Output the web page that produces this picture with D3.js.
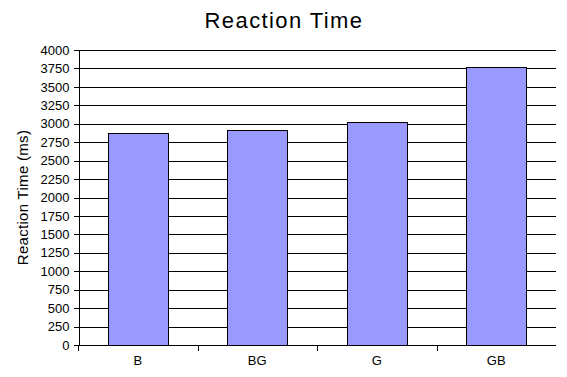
<!DOCTYPE html>
<html>
<head>
<meta charset="utf-8">
<script src="https://cdn.jsdelivr.net/npm/d3@7"></script>
<style>
  body { margin: 0; background: #fff; }
  text { font-family: "Liberation Sans", Arial, sans-serif; fill: #000; }
</style>
</head>
<body>
<svg width="567" height="377"></svg>
<script>
var categories = ['B', 'BG', 'G', 'GB'];
var reactionTimes = [2870, 2910, 3020, 3765];
var yTicks = d3.range(0, 4001, 250);

var svg = d3.select('svg');
var margin = {left: 78, right: 11, top: 50, bottom: 32};
var width = 567, height = 377;

var x = d3.scaleBand()
          .domain(categories)
          .range([margin.left, width - margin.right])
          .paddingInner(0.5)
          .paddingOuter(0.25);

var y = d3.scaleLinear()
          .domain([0, 4000])
          .range([height - margin.bottom, margin.top]);

// gridlines
svg.append('g')
  .selectAll('line')
  .data(yTicks.slice(1))
  .enter()
  .append('line')
    .attr('x1', margin.left)
    .attr('x2', width - margin.right)
    .attr('y1', d => Math.round(y(d)) + 0.5)
    .attr('y2', d => Math.round(y(d)) + 0.5)
    .attr('stroke', '#000')
    .attr('shape-rendering', 'crispEdges');

// bars
svg.append('g')
  .selectAll('rect')
  .data(reactionTimes)
  .enter()
  .append('rect')
    .attr('x', (d, i) => Math.round(x(categories[i])) + 0.5)
    .attr('y', d => Math.round(y(d)) + 0.5)
    .attr('width', Math.round(x.bandwidth()))
    .attr('height', d => Math.round(y(0)) - Math.round(y(d)))
    .attr('fill', '#9999ff')
    .attr('stroke', '#000')
    .attr('shape-rendering', 'crispEdges');

// y axis
var yAxis = svg.append('g')
  .attr('transform', 'translate(' + (margin.left + 0.5) + ',0)')
  .call(d3.axisLeft(y).tickValues(yTicks).tickFormat(d3.format('d'))
          .tickSize(5).tickPadding(4).tickSizeOuter(0));
yAxis.selectAll('text').attr('font-size', 13).style('font-family', '"Liberation Sans", Arial, sans-serif');
yAxis.selectAll('line, path').attr('stroke', '#000').attr('shape-rendering', 'crispEdges');

// x axis
var bounds = d3.range(categories.length + 1).map(i => margin.left + i * (width - margin.left - margin.right) / categories.length);
var xAxis = svg.append('g');
xAxis.append('line')
  .attr('x1', margin.left).attr('x2', width - margin.right)
  .attr('y1', Math.round(y(0)) + 0.5).attr('y2', Math.round(y(0)) + 0.5)
  .attr('stroke', '#000').attr('shape-rendering', 'crispEdges');
xAxis.selectAll('line.tick')
  .data(bounds.slice(0, -1))
  .enter()
  .append('line')
    .attr('class', 'tick')
    .attr('x1', d => Math.round(d) + 0.5).attr('x2', d => Math.round(d) + 0.5)
    .attr('y1', Math.round(y(0))).attr('y2', Math.round(y(0)) + 6)
    .attr('stroke', '#000').attr('shape-rendering', 'crispEdges');
xAxis.selectAll('text')
  .data(categories)
  .enter()
  .append('text')
    .attr('x', d => x(d) + x.bandwidth() / 2)
    .attr('y', Math.round(y(0)) + 20)
    .attr('text-anchor', 'middle')
    .attr('font-size', 13)
    .text(d => d);

// title
svg.append('text')
  .attr('x', 284)
  .attr('y', 28)
  .attr('text-anchor', 'middle')
  .attr('font-size', 22)
  .attr('letter-spacing', 1.4)
  .text('Reaction Time');

// y label
svg.append('text')
  .attr('transform', 'translate(28,' + ((y(0) + y(4000)) / 2) + ') rotate(-90)')
  .attr('text-anchor', 'middle')
  .attr('font-size', 15)
  .attr('letter-spacing', 0.3)
  .text('Reaction Time (ms)');
</script>
</body>
</html>
